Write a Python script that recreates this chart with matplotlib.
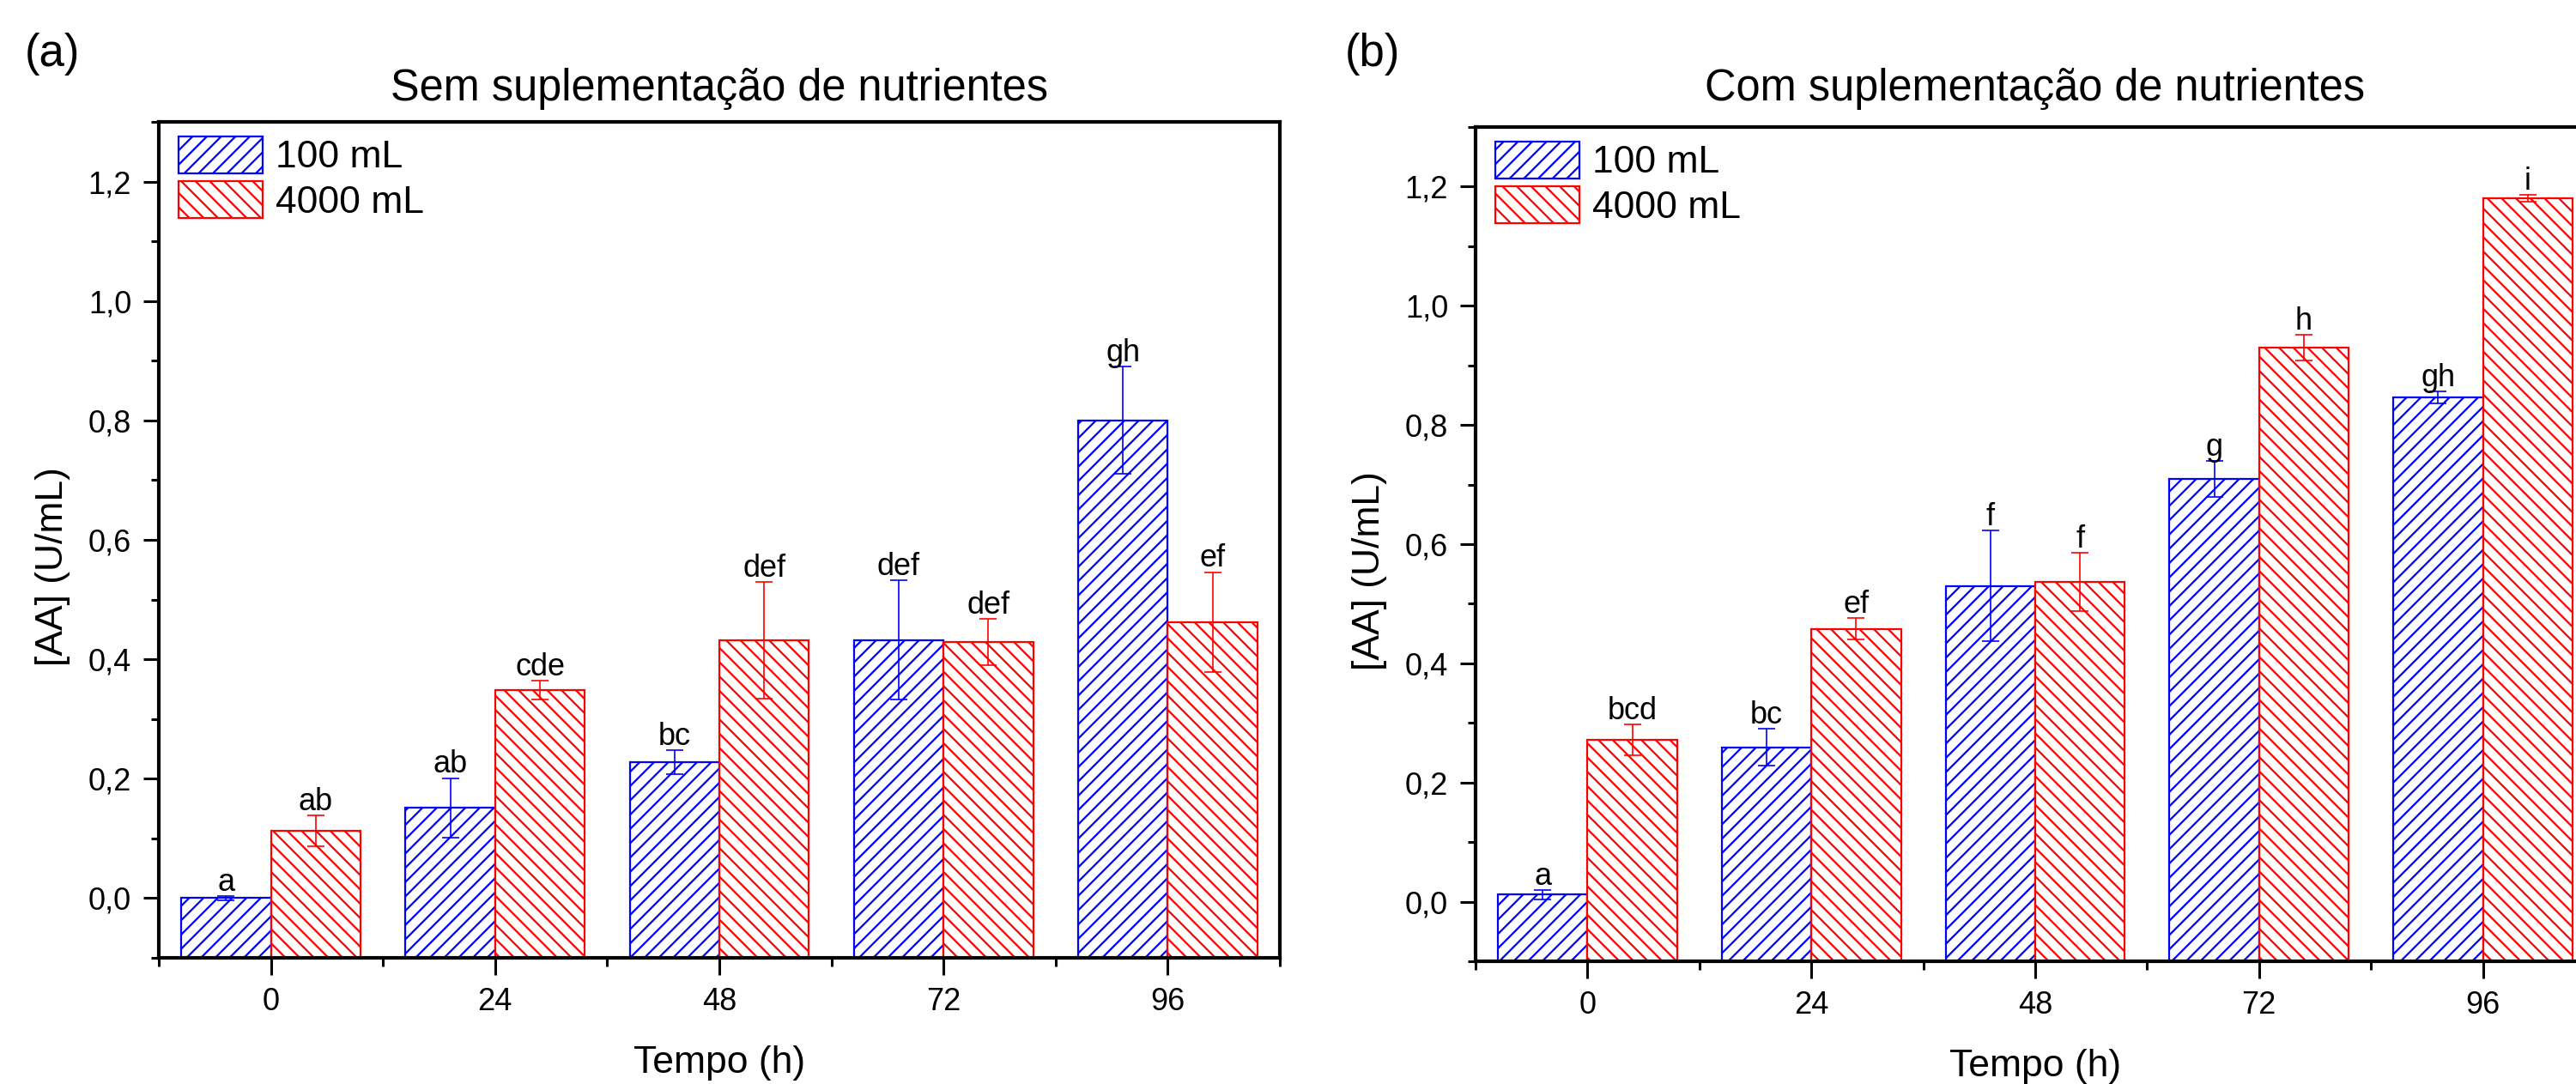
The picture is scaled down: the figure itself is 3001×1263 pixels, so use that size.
import matplotlib
matplotlib.use('Agg')
import matplotlib.pyplot as plt
import numpy as np
from matplotlib.ticker import FixedLocator, MultipleLocator

plt.rcParams['font.family'] = ['Liberation Sans', 'DejaVu Sans']
plt.rcParams['hatch.linewidth'] = 0.8

tempos = ['0', '24', '48', '72', '96']
yticklabels = ['0,0', '0,2', '0,4', '0,6', '0,8', '1,0', '1,2']
yticks = [0.0, 0.2, 0.4, 0.6, 0.8, 1.0, 1.2]

# (a) sem suplementacao
sem_100 = [0.0, 0.151, 0.228, 0.432, 0.800]
sem_100_err = [0.004, 0.050, 0.020, 0.100, 0.090]
sem_100_let = ['a', 'ab', 'bc', 'def', 'gh']
sem_4000 = [0.113, 0.348, 0.432, 0.429, 0.462]
sem_4000_err = [0.026, 0.016, 0.098, 0.039, 0.084]
sem_4000_let = ['ab', 'cde', 'def', 'def', 'ef']

# (b) com suplementacao
com_100 = [0.012, 0.259, 0.530, 0.709, 0.846]
com_100_err = [0.008, 0.031, 0.093, 0.030, 0.010]
com_100_let = ['a', 'bc', 'f', 'g', 'gh']
com_4000 = [0.271, 0.458, 0.536, 0.930, 1.180]
com_4000_err = [0.026, 0.018, 0.049, 0.022, 0.006]
com_4000_let = ['bcd', 'ef', 'f', 'h', 'i']

YMIN, YMAX = -0.1, 1.3

W, H = 3001, 1263
fig = plt.figure(figsize=(W / 200, H / 200), dpi=200)
fig.patch.set_facecolor('white')

ax_a = fig.add_axes([185 / W, 1 - 1116 / H, 1306 / W, 974 / H])
ax_b = fig.add_axes([1719 / W, 1 - 1120 / H, 1304 / W, 972 / H])


def draw(ax, v1, e1, l1, v2, e2, l2, title, title_pad):
    x = np.arange(len(tempos))
    w = 0.4
    # bars are drawn up from the bottom of the axis, not from zero
    b1 = ax.bar(x - w / 2, np.array(v1) - YMIN, w, bottom=YMIN, facecolor='white',
                edgecolor='blue', hatch='////', linewidth=0.8, label='100 mL', zorder=2)
    b2 = ax.bar(x + w / 2, np.array(v2) - YMIN, w, bottom=YMIN, facecolor='white',
                edgecolor='red', hatch='\\\\\\\\', linewidth=0.8, label='4000 mL', zorder=2)
    ax.errorbar(x - w / 2, v1, yerr=e1, fmt='none', ecolor='blue',
                elinewidth=0.6, capsize=3.6, capthick=0.6, zorder=3)
    ax.errorbar(x + w / 2, v2, yerr=e2, fmt='none', ecolor='red',
                elinewidth=0.6, capsize=3.6, capthick=0.6, zorder=3)
    for xs, vals, errs, lets in [(x - w / 2, v1, e1, l1), (x + w / 2, v2, e2, l2)]:
        for xi, v, e, t in zip(xs, vals, errs, lets):
            ax.annotate(t, (xi, v + e), xytext=(0, 2.2), textcoords='offset points',
                        ha='center', va='baseline', fontsize=13)

    ax.set_xlim(-0.5, 4.5)
    ax.set_ylim(YMIN, YMAX)
    ax.set_xticks(x)
    ax.set_xticklabels(tempos)
    ax.xaxis.set_minor_locator(FixedLocator(np.arange(-0.5, 5, 1)))
    ax.set_yticks(yticks)
    ax.set_yticklabels(yticklabels)
    ax.yaxis.set_minor_locator(MultipleLocator(0.1))
    ax.tick_params(axis='both', which='both', direction='out', width=1.1,
                   labelsize=13, pad=5, top=False, right=False)
    ax.tick_params(axis='y', which='major', length=6.5)
    ax.tick_params(axis='y', which='minor', length=3.2)
    ax.tick_params(axis='x', which='major', length=7.2)
    ax.tick_params(axis='x', which='minor', length=3.6)
    for s in ax.spines.values():
        s.set_linewidth(1.5)

    ax.set_xlabel('Tempo (h)', fontsize=16, labelpad=12)
    ax.set_ylabel('[AA] (U/mL)', fontsize=16)
    ax.set_title(title, fontsize=18.2, pad=title_pad)

    ax.legend(handles=[b1, b2], loc='upper left', bbox_to_anchor=(23 / 1306, 1 - 17 / 974),
              frameon=False, fontsize=16, handlelength=2.2, handleheight=1.1,
              labelspacing=0.15, handletextpad=0.35, borderpad=0, borderaxespad=0)


draw(ax_a, sem_100, sem_100_err, sem_100_let, sem_4000, sem_4000_err, sem_4000_let,
     'Sem suplementação de nutrientes', 9)
draw(ax_b, com_100, com_100_err, com_100_let, com_4000, com_4000_err, com_4000_let,
     'Com suplementação de nutrientes', 11)

ax_a.yaxis.set_label_coords(-0.079, 0.468)
ax_b.yaxis.set_label_coords(-0.079, 0.468)

fig.text(29 / W, 1 - 77 / H, '(a)', fontsize=19, va='baseline')
fig.text(1567 / W, 1 - 77 / H, '(b)', fontsize=19, va='baseline')

fig.savefig('out.png', dpi=200)
